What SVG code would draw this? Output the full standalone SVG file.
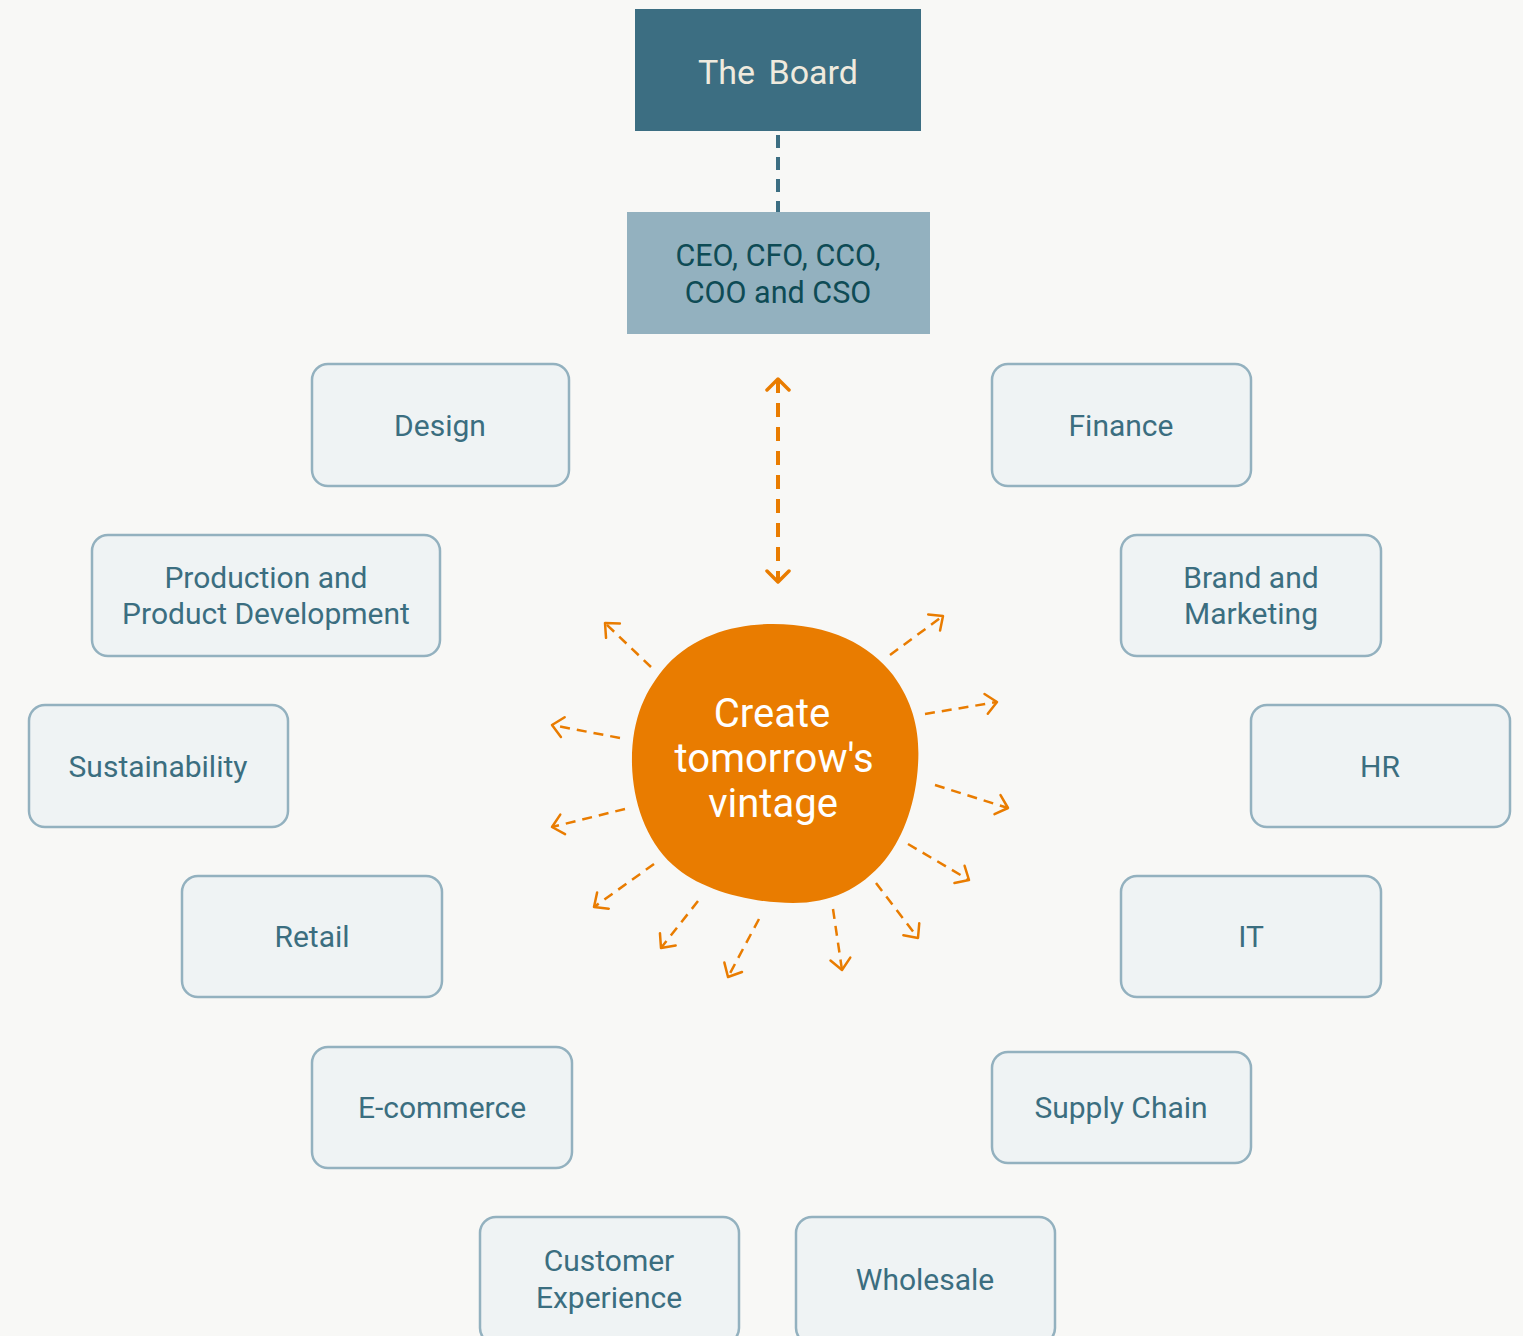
<svg xmlns="http://www.w3.org/2000/svg" width="1523" height="1336" viewBox="0 0 1523 1336">
  <defs>
    <style>
      .node rect { fill: #eff3f4; stroke: #93b1bf; stroke-width: 2.5; }
      .node text { font-family: Roboto, "Noto Sans", sans-serif; font-size: 30px; fill: #3b6e80; text-anchor: middle; }
      .ray { stroke: #e97c00; stroke-width: 2.5; stroke-dasharray: 10 7; fill: none; marker-end: url(#chev); }
      .main { font-family: Roboto, "Noto Sans", sans-serif; text-anchor: middle; }
    </style>
    <marker id="chev" markerUnits="userSpaceOnUse" viewBox="-14 -12 16 24" refX="0" refY="0" markerWidth="16" markerHeight="24" orient="auto-start-reverse">
      <path d="M-11,-10 L0,0 L-11,10" fill="none" stroke="#e97c00" stroke-width="2.5" stroke-linecap="round" stroke-linejoin="round"/>
    </marker>
    <marker id="chevBig" markerUnits="userSpaceOnUse" viewBox="-16 -14 18 28" refX="0" refY="0" markerWidth="18" markerHeight="28" orient="auto-start-reverse">
      <path d="M-11,-11 L0,0 L-11,11" fill="none" stroke="#e97c00" stroke-width="3.5" stroke-linecap="round" stroke-linejoin="round"/>
    </marker>
  </defs>
  <rect x="0" y="0" width="1523" height="1336" fill="#f8f8f6"/>

  <g id="connectors">
    <line x1="778" y1="135" x2="778" y2="212" stroke="#3c6e82" stroke-width="4" stroke-dasharray="13 9"/>
    <line x1="778" y1="379" x2="778" y2="582" stroke="#e97c00" stroke-width="4" stroke-dasharray="14 10" marker-start="url(#chevBig)" marker-end="url(#chevBig)"/>
    <line class="ray" x1="651" y1="667" x2="605" y2="623"/>
    <line class="ray" x1="890" y1="655" x2="943" y2="616"/>
    <line class="ray" x1="925" y1="714" x2="997" y2="702"/>
    <line class="ray" x1="620" y1="738" x2="552" y2="725"/>
    <line class="ray" x1="935" y1="785" x2="1008" y2="808"/>
    <line class="ray" x1="625" y1="809" x2="552" y2="827"/>
    <line class="ray" x1="654" y1="864" x2="594" y2="907"/>
    <line class="ray" x1="908" y1="844" x2="969" y2="880"/>
    <line class="ray" x1="698" y1="901" x2="661" y2="948"/>
    <line class="ray" x1="759" y1="919" x2="728" y2="977"/>
    <line class="ray" x1="833" y1="909" x2="842" y2="970"/>
    <line class="ray" x1="876" y1="883" x2="918" y2="938"/>
  </g>

  <g id="board">
    <rect x="635" y="9" width="286" height="122" fill="#3c6e82"/>
    <text class="main" x="778" y="84" font-size="34" fill="#efeade" word-spacing="5">The Board</text>
  </g>

  <g id="executives">
    <rect x="627" y="212" width="303" height="122" fill="#93b1bf"/>
    <text class="main" x="778" y="266" font-size="30.5" fill="#0e4b55">CEO, CFO, CCO,</text>
    <text class="main" x="778" y="303" font-size="30.5" fill="#0e4b55">COO and CSO</text>
  </g>

  <g id="vision">
    <path d="M773,624 C830,624 870,645 893,675 C915,705 920,735 918,765 C916,800 905,835 885,860 C860,890 830,903 793,903 C750,903 700,890 673,865 C645,840 633,800 632,765 C631,720 645,690 667,665 C695,635 735,624 773,624 Z" fill="#e97c00"/>
    <text class="main" x="772" y="727" font-size="40" fill="#ffffff">Create</text>
    <text class="main" x="774" y="772" font-size="40" fill="#ffffff">tomorrow's</text>
    <text class="main" x="773" y="817" font-size="40" fill="#ffffff">vintage</text>
  </g>

  <g id="design" class="node">
    <rect x="312" y="364" width="257" height="122" rx="16"/>
    <text x="440" y="436">Design</text>
  </g>
  <g id="finance" class="node">
    <rect x="992" y="364" width="259" height="122" rx="16"/>
    <text x="1121" y="436">Finance</text>
  </g>
  <g id="production" class="node">
    <rect x="92" y="535" width="348" height="121" rx="16"/>
    <text x="266" y="588">Production and</text>
    <text x="266" y="624">Product Development</text>
  </g>
  <g id="brand" class="node">
    <rect x="1121" y="535" width="260" height="121" rx="16"/>
    <text x="1251" y="588">Brand and</text>
    <text x="1251" y="624">Marketing</text>
  </g>
  <g id="sustainability" class="node">
    <rect x="29" y="705" width="259" height="122" rx="16"/>
    <text x="158" y="777">Sustainability</text>
  </g>
  <g id="hr" class="node">
    <rect x="1251" y="705" width="259" height="122" rx="16"/>
    <text x="1380" y="777">HR</text>
  </g>
  <g id="retail" class="node">
    <rect x="182" y="876" width="260" height="121" rx="16"/>
    <text x="312" y="947">Retail</text>
  </g>
  <g id="it" class="node">
    <rect x="1121" y="876" width="260" height="121" rx="16"/>
    <text x="1251" y="947">IT</text>
  </g>
  <g id="ecommerce" class="node">
    <rect x="312" y="1047" width="260" height="121" rx="16"/>
    <text x="442" y="1118">E-commerce</text>
  </g>
  <g id="supply-chain" class="node">
    <rect x="992" y="1052" width="259" height="111" rx="16"/>
    <text x="1121" y="1118">Supply Chain</text>
  </g>
  <g id="customer-experience" class="node">
    <rect x="480" y="1217" width="259" height="127" rx="16"/>
    <text x="609" y="1271">Customer</text>
    <text x="609" y="1308">Experience</text>
  </g>
  <g id="wholesale" class="node">
    <rect x="796" y="1217" width="259" height="127" rx="16"/>
    <text x="925" y="1290">Wholesale</text>
  </g>
</svg>
